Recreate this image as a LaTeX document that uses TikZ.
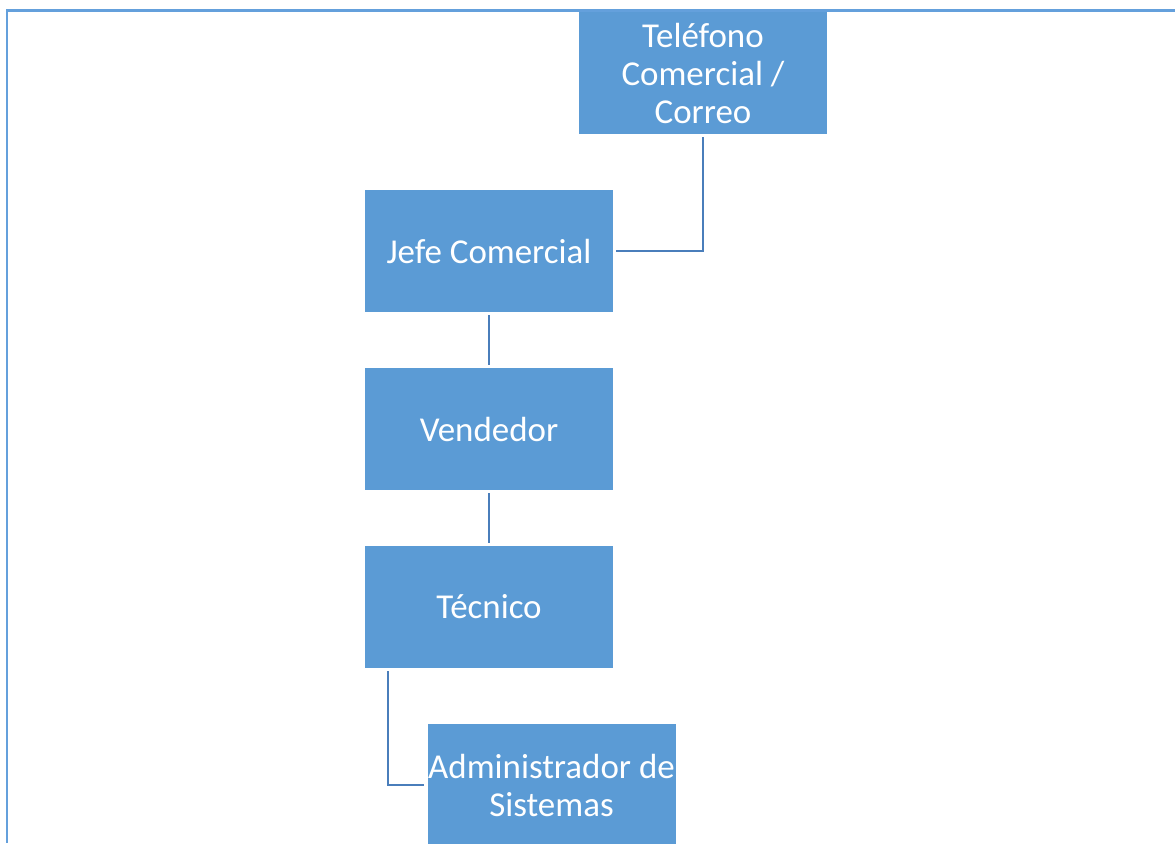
\documentclass[tikz,border=0pt]{standalone}
\usepackage{fontspec}
\setmainfont{Carlito}
\usetikzlibrary{calc}
\definecolor{boxfill}{RGB}{91,155,213}
\definecolor{connc}{RGB}{74,126,187}
\definecolor{framec}{RGB}{100,160,220}
\tikzset{
  box/.style={fill=boxfill, draw=none, minimum width=186pt, minimum height=91.5pt, inner sep=0pt,
    text=white, align=center, font=\fontsize{26.2}{28.5}\selectfont},
  conn/.style={draw=connc, line width=1.8pt, shorten <=2.25pt, shorten >=2.25pt},
  frame/.style={draw=framec, line width=2pt}
}
\begin{document}
\begin{tikzpicture}[x=0.75pt,y=-0.75pt]
\useasboundingbox (0,0) rectangle (1175,843);
\fill[white] (0,0) rectangle (1175,843);
\coordinate (ftr) at (1175,10.5);
\coordinate (ftl) at (7,10.5);
\coordinate (fbl) at (7,843);
\draw[frame] (ftr) -- (ftl) -- (fbl);
\node[box] (tel) at (703,73) {Teléfono\\Comercial /\\Correo};
\node[box] (jefe) at (489,251) {Jefe Comercial};
\node[box] (vend) at (489,429) {Vendedor};
\node[box] (tec) at (489,607) {Técnico};
\node[box] (adm) at (551.5,785) {Administrador de\\Sistemas};
\draw[conn] (tel.south) |- (jefe.east);
\draw[conn] (jefe.south) -- (vend.north);
\draw[conn] (vend.south) -- (tec.north);
\coordinate (tecl) at ($(tec.south west)+(23,0)$);
\draw[conn] (tecl) |- (adm.west);
\end{tikzpicture}
\end{document}
